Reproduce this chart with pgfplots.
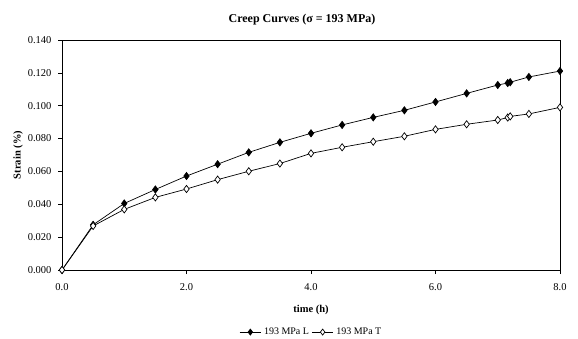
\documentclass[border=0pt]{standalone}
\usepackage{pgfplots}
\pgfplotsset{compat=1.18}
\usepackage{fontspec}
\setmainfont{Liberation Serif}
\begin{document}
\begin{tikzpicture}
\useasboundingbox (0,0) rectangle (578pt,338pt);
\begin{axis}[
  at={(62pt,68pt)}, anchor=south west,
  scale only axis, width=498pt, height=230pt,
  xmin=0, xmax=8, ymin=0, ymax=0.14,
  xtick={0,2,4,6,8}, ytick={0,0.02,0.04,0.06,0.08,0.10,0.12,0.14},
  xticklabel style={/pgf/number format/fixed, /pgf/number format/fixed zerofill, /pgf/number format/precision=1, yshift=-6pt},
  yticklabel style={/pgf/number format/fixed, /pgf/number format/fixed zerofill, /pgf/number format/precision=3, xshift=-3pt},
  scaled y ticks=false,
  /pgf/number format/assume math mode=true,
  tick align=outside, tick style={black, line width=0.6pt}, major tick length=4pt,
  xtick pos=bottom, ytick pos=left,
  axis line style={black, line width=0.8pt},
  tick label style={font=\fontsize{10.5}{12}\selectfont},
  xlabel={\textbf{time (h)}}, ylabel={\textbf{Strain (\%)}},
  label style={font=\fontsize{10.5}{12}\selectfont},
  xlabel style={yshift=-8pt},
  ylabel style={yshift=-2pt},
  title={\textbf{Creep Curves (σ = 193 MPa)}},
  title style={font=\fontsize{12}{14}\selectfont, yshift=5pt, xshift=-9pt},
  legend style={at={(0.5,-0.245)}, anchor=north, draw=none, legend columns=2,
    font=\fontsize{10}{12}\selectfont, column sep=1pt, inner sep=0pt,
    nodes={inner sep=1.5pt}},
  legend cell align=left,
  legend image code/.code={\draw[mark repeat=2,mark phase=2, mark size=3pt]
     plot coordinates {(0cm,0cm)(0.38cm,0cm)(0.76cm,0cm)};},
]
\addplot[black, line width=0.7pt, mark=diamond*, mark size=3.6pt, mark options={fill=black, solid}] coordinates {
(0,0) (0.5,0.0275) (1,0.0405) (1.5,0.0490) (2,0.0572) (2.5,0.0644) (3,0.0716) (3.5,0.0777)
(4,0.0832) (4.5,0.0883) (5,0.0929) (5.5,0.0972) (6,0.1023) (6.5,0.1075) (7,0.1126)
(7.16,0.1138) (7.2,0.1143) (7.5,0.1175) (8,0.1211)
};
\addlegendentry{193 MPa L}
\addplot[black, line width=0.7pt, mark=diamond*, mark size=3.6pt, mark options={fill=white, solid}] coordinates {
(0,0) (0.5,0.0268) (1,0.0369) (1.5,0.0442) (2,0.0493) (2.5,0.0550) (3,0.0601) (3.5,0.0648)
(4,0.0710) (4.5,0.0747) (5,0.0781) (5.5,0.0814) (6,0.0856) (6.5,0.0887) (7,0.0913)
(7.16,0.0928) (7.2,0.0935) (7.5,0.0950) (8,0.0990)
};
\addlegendentry{193 MPa T}
\end{axis}
\end{tikzpicture}
\end{document}
